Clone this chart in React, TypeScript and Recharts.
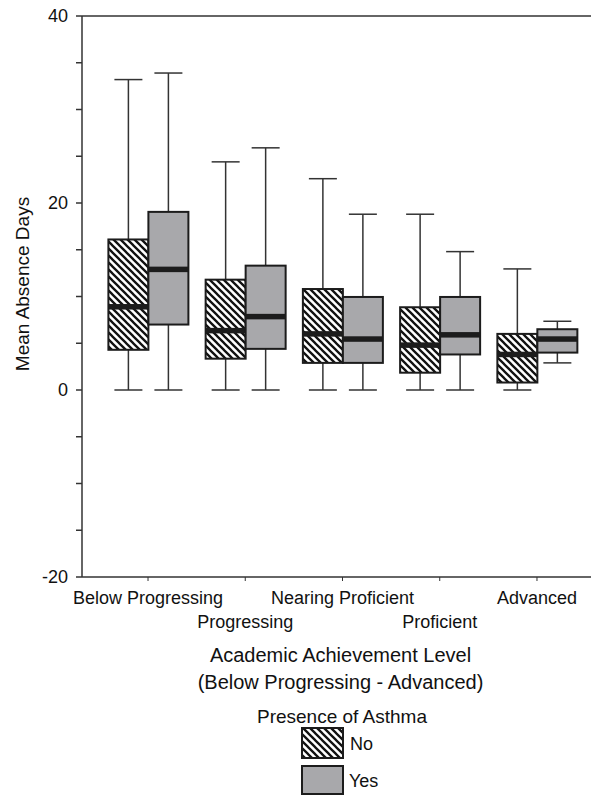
import React from "react";
import {
  ComposedChart,
  Bar,
  XAxis,
  YAxis,
  ReferenceLine,
} from "recharts";

const categories = [
  "Below Progressing",
  "Progressing",
  "Nearing Proficient",
  "Proficient",
  "Advanced",
];

// No asthma
const noMin = [0, 0, 0, 0, 0];
const noQ1 = [4.3, 3.35, 2.9, 1.85, 0.8];
const noMedian = [8.9, 6.35, 6.0, 4.8, 3.8];
const noQ3 = [16.1, 11.8, 10.8, 8.85, 6.0];
const noMax = [33.2, 24.4, 22.6, 18.8, 12.95];

// Asthma
const yesMin = [0, 0, 0, 0, 2.9];
const yesQ1 = [7.0, 4.4, 2.9, 3.8, 4.0];
const yesMedian = [12.9, 7.85, 5.45, 5.9, 5.45];
const yesQ3 = [19.05, 13.3, 9.95, 9.95, 6.5];
const yesMax = [33.9, 25.9, 18.8, 14.8, 7.35];

const yTicks = [-20, -15, -10, -5, 0, 5, 10, 15, 20, 25, 30, 35, 40];

const FONT = "'Liberation Sans', Arial, Helvetica, sans-serif";
const INK = "#1c1c1c";
const AXIS = "#333";
const GRAY = "#a8a8ab";

const rows = categories.map((name, i) => ({
  name,
  noRange: [noMin[i], noMax[i]],
  yesRange: [yesMin[i], yesMax[i]],
  no: { min: noMin[i], q1: noQ1[i], med: noMedian[i], q3: noQ3[i], max: noMax[i] },
  yes: { min: yesMin[i], q1: yesQ1[i], med: yesMedian[i], q3: yesQ3[i], max: yesMax[i] },
}));

function BoxShape(props: any) {
  const { x, y, width, height, payload, group } = props;
  const s = payload[group];
  const top = Math.min(y, y + height);
  const bottom = Math.max(y, y + height);
  const ppu = (bottom - top) / (s.max - s.min);
  const py = (v: number) => top + (s.max - v) * ppu;
  const cx = x + width / 2;
  const cap = width * 0.35;
  const fill = group === "no" ? "url(#hatch)" : GRAY;
  return (
    <g>
      <line x1={cx} x2={cx} y1={py(s.max)} y2={py(s.q3)} stroke={AXIS} strokeWidth={1.5} />
      <line x1={cx} x2={cx} y1={py(s.q1)} y2={py(s.min)} stroke={AXIS} strokeWidth={1.5} />
      <line x1={cx - cap} x2={cx + cap} y1={py(s.max)} y2={py(s.max)} stroke={AXIS} strokeWidth={1.5} />
      <line x1={cx - cap} x2={cx + cap} y1={py(s.min)} y2={py(s.min)} stroke={AXIS} strokeWidth={1.5} />
      <rect
        x={x}
        y={py(s.q3)}
        width={width}
        height={py(s.q1) - py(s.q3)}
        fill={fill}
        stroke={INK}
        strokeWidth={2}
      />
      <rect x={x} y={py(s.med) - 2.75} width={width} height={5.5} fill={INK} />
    </g>
  );
}

function XTick(props: any) {
  const { x, y, payload, index } = props;
  const dy = index % 2 === 0 ? 21 : 45;
  return (
    <text x={x} y={y + dy} textAnchor="middle" fontSize={18} fill="#111" fontFamily={FONT}>
      {payload.value}
    </text>
  );
}

function XTitle(props: any) {
  const vb = props.viewBox || { x: 82, y: 577, width: 517 };
  const cx = vb.x + vb.width / 2;
  return (
    <g fontFamily={FONT} fontSize={20} fill="#111">
      <text x={cx} y={vb.y + 85} textAnchor="middle">
        Academic Achievement Level
      </text>
      <text x={cx} y={vb.y + 112} textAnchor="middle">
        (Below Progressing - Advanced)
      </text>
    </g>
  );
}

function YTitle() {
  return (
    <text
      x={22}
      y={284}
      transform="rotate(-90 22 284)"
      textAnchor="middle"
      dominantBaseline="central"
      fontSize={19}
      fontFamily={FONT}
      fill="#111"
    >
      Mean Absence Days
    </text>
  );
}

function Hatch({ id }: { id: string }) {
  return (
    <pattern id={id} patternUnits="userSpaceOnUse" width={7} height={7}>
      <rect width={7} height={7} fill="#fff" />
      <path d="M-1,-1 L8,8 M-1,6 L1,8 M6,-1 L8,1" stroke="#111" strokeWidth={2.3} />
    </pattern>
  );
}

function LegendBox() {
  return (
    <svg
      width={599}
      height={97}
      style={{ position: "absolute", left: 0, top: 698 }}
      fontFamily={FONT}
    >
      <defs>
        <Hatch id="hatchLegend" />
      </defs>
      <text x={342} y={24.5} textAnchor="middle" fontSize={19} fill="#111">
        Presence of Asthma
      </text>
      <rect x={302} y={30} width={41} height={30} fill="url(#hatchLegend)" stroke={INK} strokeWidth={2} />
      <text x={350} y={51.5} fontSize={18} fill="#111">
        No
      </text>
      <rect x={302} y={68} width={41} height={28} fill={GRAY} stroke={INK} strokeWidth={2} />
      <text x={349} y={88.5} fontSize={18} fill="#111">
        Yes
      </text>
    </svg>
  );
}

export default function App() {
  return (
    <div
      style={{
        position: "relative",
        width: 599,
        height: 795,
        margin: "-8px 0 0 -8px",
        fontFamily: FONT,
      }}
    >
      <ComposedChart
        width={599}
        height={795}
        data={rows}
        margin={{ top: 16, right: 0, bottom: 158, left: 0 }}
        barGap={0}
        barSize={40}
      >
        <defs>
          <Hatch id="hatch" />
        </defs>
        <XAxis
          dataKey="name"
          height={60}
          padding={{ left: 17.4, right: 13.4 }}
          axisLine={{ stroke: AXIS, strokeWidth: 1.5 }}
          tickLine={{ stroke: AXIS, strokeWidth: 1 }}
          tickSize={4}
          interval={0}
          tick={<XTick />}
          label={<XTitle />}
        />
        <YAxis
          type="number"
          domain={[-20, 40]}
          ticks={yTicks}
          width={82}
          tickSize={6}
          tickMargin={8}
          interval={0}
          tickFormatter={(v: number) => (v % 20 === 0 ? String(v) : "")}
          tick={{ fill: "#111", fontSize: 18, fontFamily: FONT }}
          axisLine={{ stroke: AXIS, strokeWidth: 1.5 }}
          tickLine={{ stroke: AXIS, strokeWidth: 1.5 }}
          label={<YTitle />}
        />
        <ReferenceLine y={40} stroke={AXIS} strokeWidth={1.5} />
        <Bar
          dataKey="noRange"
          isAnimationActive={false}
          shape={(p: any) => <BoxShape {...p} group="no" />}
        />
        <Bar
          dataKey="yesRange"
          isAnimationActive={false}
          shape={(p: any) => <BoxShape {...p} group="yes" />}
        />
      </ComposedChart>
      <LegendBox />
    </div>
  );
}
